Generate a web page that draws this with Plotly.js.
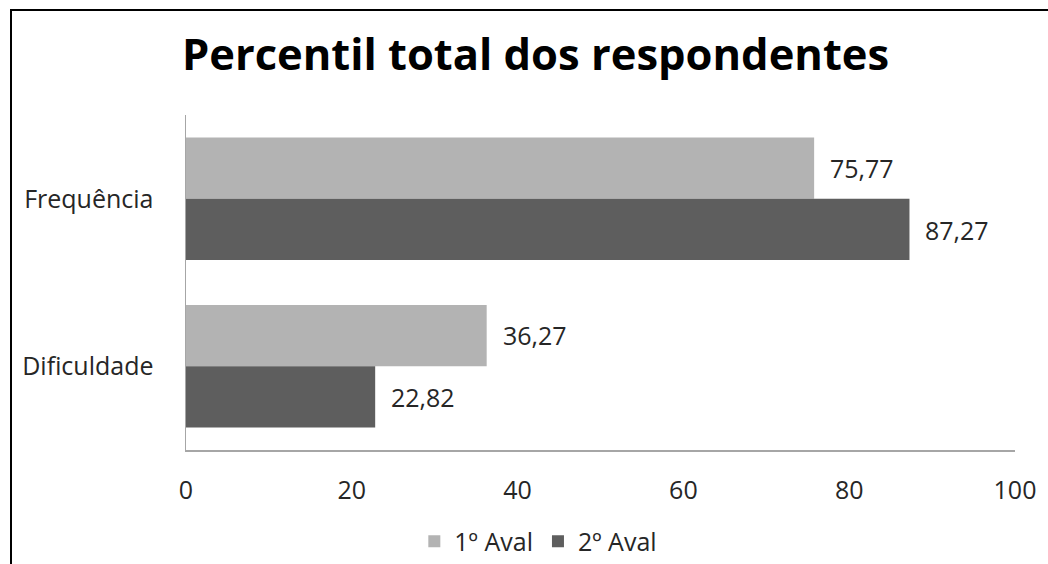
<!DOCTYPE html>
<html><head><meta charset="utf-8">
<script src="https://cdn.plot.ly/plotly-3.0.1.min.js"></script>
<style>
html,body{margin:0;padding:0;background:#fff;}
#chart{width:1048px;height:564px;position:relative;}
#frame{position:absolute;left:10px;top:9px;width:1040px;height:560px;border-left:2px solid #000;border-top:2px solid #000;pointer-events:none;z-index:10;}
</style></head>
<body>
<div id="chart"><div id="frame"></div></div>
<script>
const categories = ['Frequência', 'Dificuldade'];
const seriesNames = ['1º Aval', '2º Aval'];
const aval1 = [75.77, 36.27];
const aval2 = [87.27, 22.82];
const tickVals = [0, 20, 40, 60, 80, 100];
const fmt = v => v.toFixed(2).replace('.', ',');

const colors = ['#b3b3b3', '#5e5e5e'];
const font = 'Open Sans, sans-serif';
const fs = 25;

const traces = [aval1, aval2].map((vals, i) => ({
  type: 'bar', orientation: 'h', name: seriesNames[i],
  x: vals, y: categories, marker: {color: colors[i]},
  hoverinfo: 'none'
}));

const annotations = [];
[aval1, aval2].forEach((vals, i) => {
  vals.forEach((v, j) => {
    annotations.push({
      x: v, y: categories[j], xref: 'x', yref: 'y',
      text: fmt(v), showarrow: false, xanchor: 'left', yanchor: 'middle',
      xshift: 14, yshift: i === 0 ? 31 : -31,
      font: {family: font, size: fs, color: '#262626'}
    });
  });
});

const layout = {
  width: 1048, height: 564,
  margin: {l: 186, r: 33, t: 115, b: 114, autoexpand: false},
  paper_bgcolor: '#fff', plot_bgcolor: '#fff',
  barmode: 'group', bargap: 0.27, bargroupgap: 0,
  title: {text: '<b>Percentil total dos respondentes</b>', x: 0.511, xanchor: 'center',
          yref: 'container', y: 0.903, yanchor: 'middle',
          font: {family: font, size: 43.5, color: '#000'}},
  xaxis: {range: [0, 100], tickvals: tickVals, ticktext: tickVals.map(String),
          showgrid: false, zeroline: false, showline: true, linecolor: '#a6a6a6', linewidth: 1.5,
          ticks: '', ticklabelstandoff: 17, fixedrange: true, automargin: false,
          tickfont: {family: font, size: fs, color: '#262626'}},
  yaxis: {type: 'category', categoryorder: 'array', categoryarray: categories, autorange: 'reversed',
          showgrid: false, zeroline: false, showline: true, linecolor: '#a6a6a6', linewidth: 1.5,
          ticks: '', ticklabelstandoff: 26, fixedrange: true, automargin: false,
          tickfont: {family: font, size: fs, color: '#262626'}},
  showlegend: true,
  legend: {orientation: 'h', x: 0.425, xanchor: 'center', yref: 'container', y: 0.04, yanchor: 'middle',
           font: {family: font, size: fs, color: '#262626'}, itemwidth: 30, traceorder: 'normal'},
  annotations: annotations
};

Plotly.newPlot('chart', traces, layout, {displayModeBar: false, staticPlot: true});
</script>
</body></html>
